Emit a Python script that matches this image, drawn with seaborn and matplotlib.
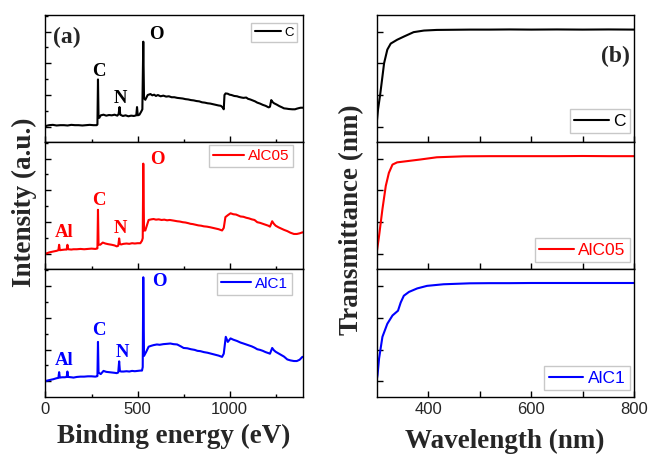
import matplotlib
matplotlib.use("Agg")
import matplotlib.pyplot as plt
import seaborn as sns
import pandas as pd
from matplotlib.ticker import MultipleLocator, FixedLocator

# ---------------- XPS survey spectra (binding energy in eV, intensity in a.u.) ----------------
c_ev = [0, 5, 20, 40, 60, 80, 100, 120, 140, 160, 180, 200, 220, 240, 260, 278, 282, 285, 288,
        292, 300, 315, 330, 345, 360, 375, 390, 397, 402, 406, 420, 435, 450, 465, 480, 493, 497,
        501, 510, 520, 526, 531, 535, 542, 555, 570, 580, 590, 600, 610, 625, 640, 655, 670, 685,
        700, 715, 730, 745, 760, 775, 790, 805, 820, 835, 850, 865, 880, 895, 910, 925, 940, 952,
        962, 968, 972, 978, 990, 1000, 1010, 1025, 1040, 1050, 1065, 1075, 1090, 1100, 1112,
        1125, 1138, 1150, 1165, 1180, 1195, 1212, 1219, 1226, 1233, 1241, 1255, 1270, 1285, 1295,
        1310, 1320, 1340, 1355, 1365, 1378, 1386, 1400]
c_int = [0.00, 0.03, 0.05, 0.06, 0.04, 0.05, 0.05, 0.04, 0.06, 0.05, 0.05, 0.04, 0.05, 0.06, 0.05,
         0.05, 0.07, 1.49, 0.30, 0.28, 0.36, 0.38, 0.35, 0.37, 0.36, 0.38, 0.35, 0.40, 0.62, 0.38,
         0.34, 0.36, 0.33, 0.35, 0.34, 0.36, 0.62, 0.36, 0.38, 0.48, 0.55, 2.68, 0.90, 0.85, 1.00,
         1.03, 0.99, 1.01, 0.97, 1.00, 0.96, 0.98, 0.95, 0.96, 0.93, 0.93, 0.91, 0.90, 0.89, 0.87,
         0.86, 0.84, 0.83, 0.81, 0.80, 0.77, 0.76, 0.74, 0.73, 0.71, 0.69, 0.67, 0.66, 0.61, 0.55,
         1.00, 1.05, 1.04, 1.01, 1.00, 0.97, 0.96, 0.94, 0.92, 0.91, 0.92, 0.88, 0.86, 0.83, 0.80,
         0.76, 0.73, 0.69, 0.66, 0.61, 0.63, 0.84, 0.78, 0.74, 0.70, 0.65, 0.61, 0.58, 0.57, 0.56,
         0.55, 0.55, 0.57, 0.59, 0.60, 0.60]

a05_ev = [0, 5, 20, 43, 60, 70, 74, 78, 90, 105, 115, 119, 123, 140, 152, 170, 190, 210, 230, 250,
          270, 279, 282, 285, 288, 297, 311, 325, 340, 360, 375, 387, 395, 400, 404, 410, 424, 440,
          455, 470, 485, 500, 515, 524, 528, 531, 535, 542, 560, 575, 587, 600, 615, 630, 645, 660,
          675, 696, 715, 730, 745, 760, 775, 787, 800, 815, 830, 845, 860, 877, 895, 910, 925, 940,
          959, 968, 977, 990, 1005, 1020, 1035, 1059, 1075, 1090, 1105, 1120, 1135, 1150, 1165,
          1180, 1195, 1210, 1219, 1231, 1240, 1250, 1265, 1280, 1295, 1313, 1330, 1349, 1365,
          1380, 1395, 1400]
a05_int = [0.00, 0.02, 0.05, 0.08, 0.10, 0.12, 0.29, 0.12, 0.13, 0.14, 0.14, 0.29, 0.15, 0.14,
           0.15, 0.15, 0.16, 0.15, 0.16, 0.17, 0.16, 0.17, 0.18, 1.39, 0.30, 0.29, 0.36, 0.33,
           0.31, 0.29, 0.27, 0.24, 0.26, 0.49, 0.32, 0.30, 0.32, 0.33, 0.32, 0.34, 0.33, 0.34,
           0.34, 0.42, 0.50, 2.84, 0.74, 0.74, 1.07, 1.09, 1.10, 1.08, 1.09, 1.07, 1.08, 1.06,
           1.07, 1.05, 1.03, 1.02, 1.00, 0.99, 0.97, 0.95, 0.94, 0.92, 0.90, 0.89, 0.87, 0.86,
           0.84, 0.82, 0.80, 0.78, 0.74, 0.82, 1.16, 1.22, 1.28, 1.25, 1.24, 1.18, 1.17, 1.14,
           1.12, 1.09, 1.07, 1.00, 0.98, 0.95, 0.92, 0.89, 0.86, 1.03, 0.95, 0.89, 0.84, 0.80,
           0.76, 0.72, 0.67, 0.63, 0.63, 0.65, 0.68, 0.68]

a1_ev = [0, 5, 20, 43, 60, 70, 74, 78, 90, 105, 115, 119, 123, 140, 152, 170, 190, 210, 230, 250,
         270, 279, 282, 285, 288, 300, 315, 330, 345, 360, 375, 387, 395, 400, 404, 410, 424, 440,
         455, 470, 485, 500, 515, 524, 528, 531, 535, 547, 560, 575, 587, 605, 620, 640, 660, 678,
         695, 715, 735, 750, 770, 790, 810, 825, 841, 860, 880, 900, 920, 940, 959, 968, 979,
         990, 1005, 1020, 1040, 1059, 1075, 1090, 1105, 1120, 1135, 1150, 1165, 1180, 1195, 1210,
         1219, 1231, 1240, 1250, 1265, 1280, 1295, 1313, 1330, 1349, 1365, 1380, 1395, 1400]
a1_int = [0.00, 0.02, 0.04, 0.07, 0.10, 0.11, 0.29, 0.12, 0.13, 0.13, 0.14, 0.31, 0.14, 0.13,
          0.12, 0.14, 0.15, 0.15, 0.16, 0.16, 0.15, 0.16, 0.17, 1.24, 0.28, 0.23, 0.33, 0.30,
          0.29, 0.28, 0.27, 0.26, 0.28, 0.63, 0.33, 0.31, 0.31, 0.32, 0.31, 0.33, 0.32, 0.33,
          0.34, 0.34, 0.45, 3.27, 0.80, 0.93, 1.09, 1.12, 1.14, 1.16, 1.15, 1.17, 1.18, 1.19,
          1.17, 1.16, 1.10, 1.05, 1.04, 1.01, 0.99, 0.96, 0.95, 0.92, 0.90, 0.87, 0.84, 0.81,
          0.77, 0.87, 1.40, 1.24, 1.35, 1.31, 1.27, 1.22, 1.19, 1.16, 1.13, 1.10, 1.06, 1.01,
          0.99, 0.96, 0.92, 0.89, 0.87, 1.05, 0.98, 0.93, 0.88, 0.83, 0.78, 0.69, 0.66, 0.64,
          0.64, 0.68, 0.77, 0.77]

# ---------------- Optical transmittance (wavelength in nm) ----------------
c_nm = [300, 303, 307, 311.5, 314.7, 321, 327.6, 340, 353, 372, 392, 417, 450, 481, 520, 558,
        600, 650, 700, 750, 800]
c_T = [21.0, 31.0, 40.0, 51.6, 60.0, 68.6, 72.4, 74.8, 76.8, 79.6, 80.6, 81.0, 81.1, 81.2, 81.2,
       81.3, 81.2, 81.3, 81.2, 81.3, 81.2]

a05_nm = [300, 305, 311.5, 318, 324, 331, 340, 360, 385, 417, 469, 520, 558, 600, 650, 700, 750,
          800]
a05_T = [20.0, 31.4, 48.2, 62.8, 71.0, 76.2, 77.6, 78.4, 79.4, 80.8, 81.4, 81.5, 81.5, 81.5, 81.5,
         81.6, 81.5, 81.5]

a1_nm = [300, 302, 305, 311.5, 321, 331, 341.7, 347, 353, 363, 379, 398, 430, 481, 520, 558, 600,
         650, 700, 750, 800]
a1_T = [20.0, 24.0, 34.4, 48.0, 56.2, 61.4, 64.4, 69.6, 73.8, 76.2, 78.4, 80.0, 81.0, 81.6, 81.7,
        81.7, 81.8, 81.8, 81.8, 81.8, 81.8]

samples = ["C", "AlC05", "AlC1"]
colors = ["#000000", "#ff0000", "#0000ff"]
xps = [(c_ev, c_int), (a05_ev, a05_int), (a1_ev, a1_int)]
uv = [(c_nm, c_T), (a05_nm, a05_T), (a1_nm, a1_T)]

# peak annotations: (label, energy, height) per sample
peak_labels = [
    [("C", 291, 1.60), ("N", 409, 0.74), ("O", 602, 2.76)],
    [("Al", 104, 0.55), ("C", 290, 1.53), ("N", 409, 0.65), ("O", 607, 2.82)],
    [("Al", 104, 0.50), ("C", 290, 1.46), ("N", 417, 0.77), ("O", 618, 3.00)],
]

sns.set_theme(style="ticks")
plt.rcParams["font.family"] = ["Liberation Sans", "DejaVu Sans"]
plt.rcParams["axes.linewidth"] = 1.0

SERIF = ["Liberation Serif", "DejaVu Serif"]
W, H = 651, 454
fig = plt.figure(figsize=(W / 100, H / 100), dpi=100)

rows = [(15, 142), (142, 269.3), (269.3, 396.7)]
left_x = (45.5, 303.3)
right_x = (376.5, 634.3)


def make_ax(xr, yr):
    return fig.add_axes([xr[0] / W, 1 - yr[1] / H, (xr[1] - xr[0]) / W, (yr[1] - yr[0]) / H])


left_leg = [(0.9756, 0.937, 9.5), (0.960, 0.976, 11), (0.956, 0.971, 11)]
right_leg = [(0.983, 0.071, 12.5), (0.983, 0.057, 12.5), (0.983, 0.053, 12.5)]

for i, (name, col) in enumerate(zip(samples, colors)):
    # XPS panel
    ax = make_ax(left_x, rows[i])
    df = pd.DataFrame({"energy": xps[i][0], "intensity": xps[i][1]})
    sns.lineplot(data=df, x="energy", y="intensity", ax=ax, color=col, lw=1.5,
                 label=name, sort=False)
    ax.set_xlim(0, 1400)
    ax.set_ylim(-0.48, 3.52)
    ax.xaxis.set_major_locator(FixedLocator([0, 500, 1000]))
    ax.xaxis.set_minor_locator(FixedLocator([250, 750, 1250]))
    ax.yaxis.set_major_locator(MultipleLocator(1))
    ax.yaxis.set_minor_locator(MultipleLocator(0.5))
    ax.tick_params(which="major", direction="in", length=4.5, width=1.0, top=False, right=False,
                   labelleft=False, labelbottom=(i == 2), labelsize=12, pad=4, color="black")
    ax.tick_params(which="minor", direction="in", length=2.5, width=1.0, top=False, right=False,
                   color="black")
    ax.set_xlabel("")
    ax.set_ylabel("")
    for s in ax.spines.values():
        s.set_color("black")
        s.set_linewidth(1.0)
    lx, ly, fs = left_leg[i]
    ax.legend(loc="upper right", bbox_to_anchor=(lx, ly), borderaxespad=0, fancybox=False,
              framealpha=1, edgecolor="#c8c8c8", handlelength=2.0, handletextpad=0.25,
              borderpad=0.25, prop={"family": "Liberation Sans", "size": fs}, labelcolor=col)
    for lab, xv, yv in peak_labels[i]:
        ax.text(xv, yv, lab, color=col, ha="center", va="baseline", fontsize=13.5,
                fontweight="bold", family=SERIF)

    # transmittance panel
    ax2 = make_ax(right_x, rows[i])
    df2 = pd.DataFrame({"wavelength": uv[i][0], "T": uv[i][1]})
    sns.lineplot(data=df2, x="wavelength", y="T", ax=ax2, color=col, lw=1.5, label=name,
                 sort=False)
    ax2.set_xlim(300, 800)
    ax2.set_ylim(10.4, 90.4)
    ax2.xaxis.set_major_locator(FixedLocator([400, 600, 800]))
    ax2.xaxis.set_minor_locator(FixedLocator([500, 700]))
    ax2.yaxis.set_major_locator(MultipleLocator(20))
    ax2.tick_params(which="major", direction="in", length=4.5, width=1.0, top=False, right=False,
                    labelleft=False, labelbottom=(i == 2), labelsize=12, pad=4, color="black")
    ax2.tick_params(which="minor", direction="in", length=4, width=1.0, top=False, right=False,
                    left=False, color="black")
    ax2.set_xlabel("")
    ax2.set_ylabel("")
    for s in ax2.spines.values():
        s.set_color("black")
        s.set_linewidth(1.0)
    rx, ry, fs2 = right_leg[i]
    ax2.legend(loc="lower right", bbox_to_anchor=(rx, ry), borderaxespad=0, fancybox=False,
               framealpha=1, edgecolor="#c8c8c8", handlelength=2.0, handletextpad=0.25,
               borderpad=0.25, prop={"family": "Liberation Sans", "size": fs2}, labelcolor=col)

    if i == 0:
        ax.text(40, 2.63, "(a)", ha="left", va="baseline", fontsize=17, fontweight="bold",
                family=SERIF)
        ax2.text(0.983, 0.63, "(b)", transform=ax2.transAxes, ha="right", va="baseline",
                 fontsize=17, fontweight="bold", family=SERIF)

# axis titles
fig.text(174 / W, 1 - 443 / H, "Binding energy (eV)", ha="center", va="baseline", fontsize=19.5,
         fontweight="bold", family=SERIF)
fig.text(505 / W, 1 - 448 / H, "Wavelength (nm)", ha="center", va="baseline", fontsize=19.5,
         fontweight="bold", family=SERIF)
fig.text(24 / W, 1 - 202 / H, "Intensity (a.u.)", rotation=90, ha="center", va="center",
         fontsize=19.5, fontweight="bold", family=SERIF)
fig.text(352 / W, 1 - 220 / H, "Transmittance (nm)", rotation=90, ha="center", va="center",
         fontsize=19.5, fontweight="bold", family=SERIF)

fig.savefig("out.png", dpi=100, facecolor="white")
